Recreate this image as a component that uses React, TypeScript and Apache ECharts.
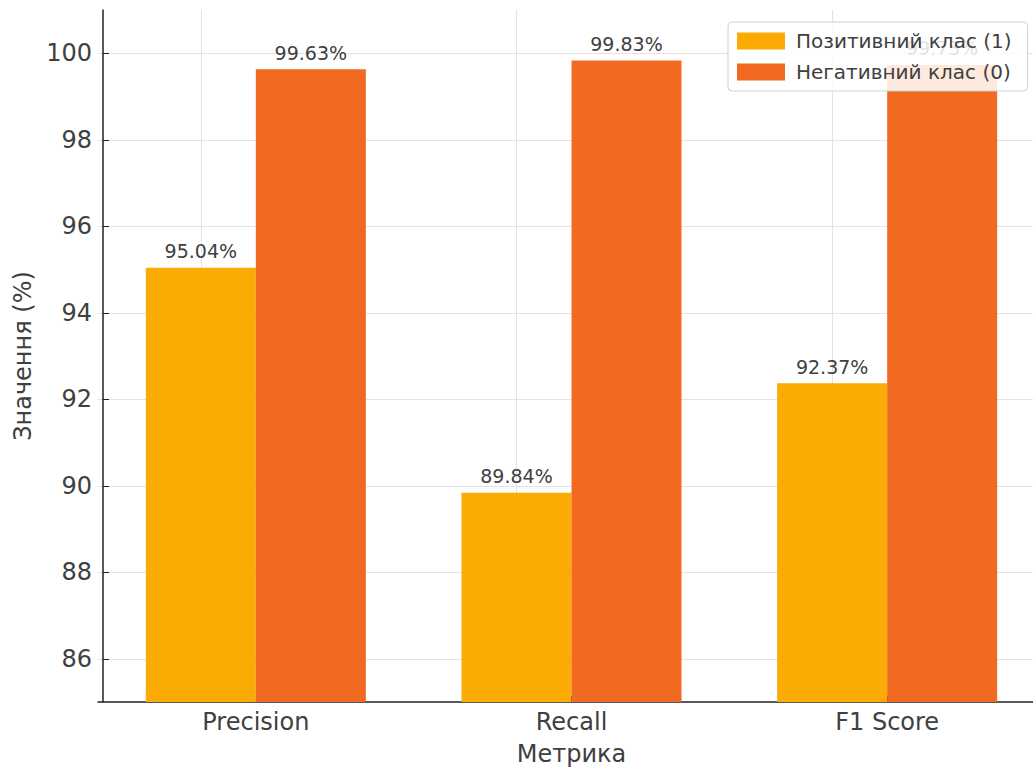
import React, { useEffect, useRef } from "react";
import * as echarts from "echarts";

const categories = ["Precision", "Recall", "F1 Score"];
const positiveName = "Позитивний клас (1)";
const negativeName = "Негативний клас (0)";
const positiveValues = [95.04, 89.84, 92.37];
const negativeValues = [99.63, 99.83, 99.73];
const yTicks = [86, 88, 90, 92, 94, 96, 98, 100];
const yMin = 85;
const yMax = 101;
const xTitle = "Метрика";
const yTitle = "Значення (%)";

const FONT = "DejaVu Sans";

export default function App() {
  const ref = useRef<HTMLDivElement>(null);
  useEffect(() => {
    if (!ref.current) return;
    const chart = echarts.init(ref.current, undefined, { renderer: "svg" });
    const labelFmt = (p: any) => `${Number(p.value).toFixed(2)}%`;
    chart.setOption({
      animation: false,
      backgroundColor: "#ffffff",
      grid: { left: 98, top: 10, width: 947, height: 697, containLabel: false },
      legend: {
        orient: "vertical",
        left: 728,
        top: 22,
        padding: [9, 16, 9, 9],
        itemWidth: 48,
        itemHeight: 17,
        itemGap: 11,
        icon: "rect",
        backgroundColor: "rgba(255,255,255,0.85)",
        borderColor: "#d0d0d0",
        borderWidth: 1,
        borderRadius: 4,
        textStyle: { fontFamily: FONT, fontSize: 20, color: "#404040", padding: [0, 0, 0, 6] },
        data: [positiveName, negativeName],
      },
      xAxis: {
        type: "category",
        data: categories,
        name: xTitle,
        nameLocation: "middle",
        nameGap: 40,
        nameTextStyle: { fontFamily: FONT, fontSize: 24, color: "#404040" },
        axisLine: { lineStyle: { color: "#222", width: 1.5 } },
        axisTick: { show: true, inside: true, alignWithLabel: true, length: 6, lineStyle: { color: "#222" } },
        axisLabel: { fontFamily: FONT, fontSize: 24, color: "#404040", margin: 8 },
        splitLine: { show: false },
      },
      yAxis: {
        type: "value",
        min: yMin,
        max: yMax,
        offset: -5,
        name: yTitle,
        nameLocation: "middle",
        nameGap: 68,
        nameTextStyle: { fontFamily: FONT, fontSize: 24, color: "#404040" },
        axisLine: { show: true, lineStyle: { color: "#222", width: 1.5 } },
        axisTick: { show: true, inside: true, length: 6, customValues: yTicks, lineStyle: { color: "#222" } },
        axisLabel: { fontFamily: FONT, fontSize: 24, color: "#404040", margin: 11, customValues: yTicks },
        splitLine: { show: true, lineStyle: { color: "#e3e3e3", width: 1 } },
      },
      series: [
        {
          name: positiveName,
          type: "bar",
          data: positiveValues,
          barWidth: 110,
          barGap: "0%",
          itemStyle: { color: "#FBAB03" },
          label: { show: true, position: "top", distance: 7, formatter: labelFmt, fontFamily: FONT, fontSize: 19, color: "#404040" },
          markLine: {
            silent: true,
            symbol: "none",
            label: { show: false },
            lineStyle: { color: "#e3e3e3", width: 1, type: "solid" },
            z: 0,
            data: categories.map((c) => ({ xAxis: c })),
          },
        },
        {
          name: negativeName,
          type: "bar",
          data: negativeValues,
          barWidth: 110,
          barGap: "0%",
          itemStyle: { color: "#F26A21" },
          label: { show: true, position: "top", distance: 7, formatter: labelFmt, fontFamily: FONT, fontSize: 19, color: "#404040" },
        },
      ],
    });
    return () => chart.dispose();
  }, []);
  return (
    <div style={{ position: "fixed", left: 0, top: 0, width: 1033, height: 771, overflow: "hidden", background: "#fff" }}>
      <div ref={ref} style={{ position: "absolute", left: 0, top: 0, width: 1050, height: 771 }} />
    </div>
  );
}
